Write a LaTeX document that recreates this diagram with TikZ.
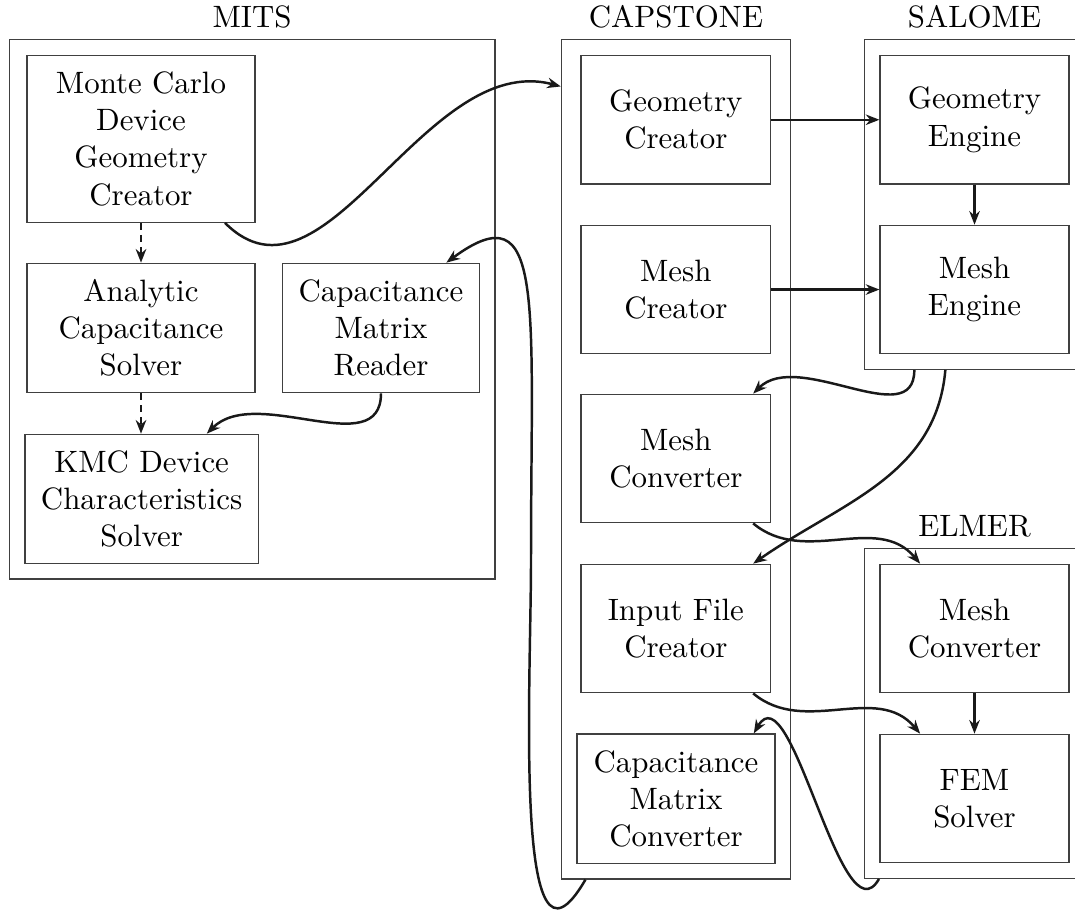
\documentclass[tikz,border=0pt]{standalone}
\usetikzlibrary{arrows.meta,fit,calc}
\tikzset{
  box/.style={draw=black!75, line width=0.4pt, align=center, inner sep=0pt},
  sz/.style 2 args={minimum width=#1*0.3236pt, minimum height=#2*0.3236pt},
  grp/.style={draw=black!75, line width=0.4pt, inner sep=4.854pt},
  lbl/.style={above, inner sep=3.33pt},
  arr/.style={-{Stealth[length=4.4pt,width=3.4pt]}, line width=0.8pt, black!90},
  dsh/.style={arr, dash pattern=on 2.2pt off 1.7pt}}
\begin{document}
\begin{tikzpicture}[x=0.3236pt,y=0.3236pt]
\useasboundingbox (0,0) rectangle (1075,909);
\clip (0,0) rectangle (1075,909);
% MITS
\node[box,sz={228}{166.8}] (mc) at (141,770.1) {Monte Carlo\\Device\\Geometry\\Creator};
\node[box,sz={228}{129.4}] (ana) at (141,581) {Analytic\\Capacitance\\Solver};
\node[box,sz={196.6}{129.4}] (rdr) at (381,581) {Capacitance\\Matrix\\Reader};
\node[box,sz={233.3}{129}] (kmc) at (141.65,410.2) {KMC Device\\Characteristics\\Solver};
% CAPSTONE
\node[box,sz={189.7}{128.5}] (gc) at (675.85,789.25) {Geometry\\Creator};
\node[box,sz={189.7}{128.5}] (mcr) at (675.85,619.45) {Mesh\\Creator};
\node[box,sz={189.7}{128.5}] (mconv) at (675.85,450.5) {Mesh\\Converter};
\node[box,sz={189.7}{128.5}] (ifc) at (675.85,280.5) {Input File\\Creator};
\node[box,sz={198}{129.3}] (cmc) at (676,110.35) {Capacitance\\Matrix\\Converter};
% SALOME
\node[box,sz={189}{128.5}] (ge) at (974.5,789.25) {Geometry\\Engine};
\node[box,sz={189}{128.5}] (me) at (974.5,619.45) {Mesh\\Engine};
% ELMER
\node[box,sz={189}{128.5}] (emc) at (974.5,280.5) {Mesh\\Converter};
\node[box,sz={189}{128.5}] (fem) at (974.5,110.5) {FEM\\Solver};
% groups
\node[grp, fit=(mc)(ana)(rdr)(kmc)] (mits) {};
\node[grp, fit=(gc)(cmc)] (capstone) {};
\node[grp, fit=(ge)(me)] (salome) {};
\node[grp, fit=(emc)(fem)] (elmer) {};
\node[lbl] (mitsl) at (mits.north) {MITS};
\node[lbl] (capl) at (capstone.north) {CAPSTONE};
\node[lbl] (sall) at (salome.north) {SALOME};
\node[lbl] (elml) at (elmer.north) {ELMER};
% helper coordinates
\coordinate (capin) at ($(capstone.north west)+(0,-47.2)$);
\coordinate (capout) at ($(capstone.south west)+(24.7,0)$);
\coordinate (via) at (531,349);
% connectors
\draw[dsh] (mc.south) -- (ana.north);
\draw[dsh] (ana.south) -- (ana.south |- kmc.north);
\draw[arr] (mc.-45) to[out=-45,in=165] (capin);
\draw[arr] (capout) .. controls +(-120:145) and +(0,-127) .. (via)
                    .. controls +(0,260) and +(99.3,73.3) .. (rdr.45);
\draw[arr] (rdr.south) to[out=-90,in=45] (kmc.45);
\draw[arr] (gc.east) -- (ge.west);
\draw[arr] (mcr.east) -- (me.west);
\draw[arr] (ge.south) -- (me.north);
\draw[arr] (emc.south) -- (fem.north);
\draw[arr] (salome.-110) to[out=-90,in=45] (mconv.40);
\draw[arr] (salome.-100) to[out=-95,in=35] (ifc.40);
\draw[arr] (mconv.-40) to[out=-40,in=130] (emc.130);
\draw[arr] (ifc.-40) to[out=-40,in=130] (fem.130);
\draw[arr] (elmer.-120) to[out=-120,in=60] (cmc.40);
\end{tikzpicture}
\end{document}
